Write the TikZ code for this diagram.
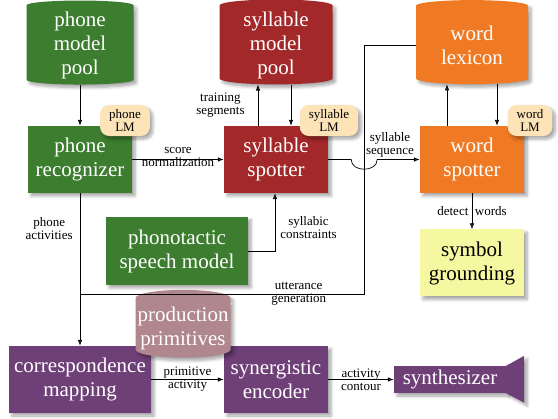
\documentclass[tikz,border=0pt]{standalone}
\usepackage{fontspec}
\setmainfont{Liberation Serif}
\usetikzlibrary{shapes,arrows.meta,positioning,calc,shadows.blur}
\definecolor{leafgreen}{HTML}{3C7D2F}
\definecolor{brickred}{HTML}{A3282A}
\definecolor{tangerine}{HTML}{F07A24}
\definecolor{plum}{HTML}{6F3F78}
\definecolor{mauve}{HTML}{B0868F}
\definecolor{lmtan}{HTML}{FCE3B8}
\definecolor{paleyellow}{HTML}{F6F7A1}
\newcommand{\bigtxt}{\fontsize{21}{24}\selectfont}
\newcommand{\lbltxt}{\fontsize{13}{13}\selectfont}

\begin{document}
\begin{tikzpicture}[x=1pt, y=-1pt,
  shdw/.style={blur shadow={shadow blur steps=6, shadow xshift=3pt, shadow yshift=-3pt, shadow blur radius=3pt, shadow opacity=35}},
  proc/.style={rectangle, fill=#1, text=white, minimum width=104pt, minimum height=67pt, align=center, font=\bigtxt, shdw},
  pool/.style={cylinder, shape border rotate=90, aspect=0.18, fill=#1, text=white, minimum height=84pt, align=center, font=\bigtxt, inner sep=0pt, shdw},
  lm/.style={rectangle, rounded corners=9pt, fill=lmtan, inner xsep=9pt, inner ysep=4.5pt, align=center, font=\lbltxt, shdw},
  lbl/.style={font=\lbltxt, align=center, inner sep=1pt},
  arr/.style={-{Latex[length=6pt, width=4.5pt]}, line width=0.7pt}
]
  \useasboundingbox (0,0) rectangle (558,419);
  % model pools
  \node[pool=leafgreen, minimum width=107pt] (phonepool) at (80,45)  {phone\\model\\pool};
  \node[pool=brickred, minimum width=113pt]  (sylpool)   at (276,45) {syllable\\model\\pool};
  \node[pool=tangerine, minimum width=112pt] (lexicon)   at (472,45) {word\\lexicon};
  % recognizer and spotters
  \node[proc=leafgreen] (phonerec) at (80,159.5)  {phone\\recognizer};
  \node[proc=brickred]  (sylspot)  at (276,159.5) {syllable\\spotter};
  \node[proc=tangerine] (wordspot) at (472,159.5) {word\\spotter};
  \node[lm] (phonelm) at (125,120.5) {phone\\LM};
  \node[lm] (syllm)   at (329,120.5) {syllable\\LM};
  \node[lm] (wordlm)  at (530,120.5) {word\\LM};
  \node[proc=paleyellow, text=black] (grounding) at (472,263) {symbol\\grounding};
  \node[proc=leafgreen, minimum width=142pt, minimum height=68pt] (phonotactic) at (177,251) {phonotactic\\speech model};
  % production side
  \node[proc=plum, minimum width=142pt] (corresp) at (80,379.5)  {correspondence\\mapping};
  \node[proc=plum]                      (synenc)  at (276,379.5) {synergistic\\encoder};
  \node[pool=mauve, minimum width=95pt, minimum height=60pt] (prodprim) at (183,328) {production\\primitives};
  \node[proc=plum, minimum width=112pt, minimum height=27pt, inner ysep=0pt] (synth) at (450,379.5) {synthesizer};
  \fill[plum, shdw] (synth.north east) -- ++(18,-10) -- ++(0,47) -- (synth.south east) -- cycle;

  % connectors
  \draw[arr] (phonepool.south) -- (phonerec.north);
  \draw[arr] ([xshift=-18pt]sylspot.north) -- node[lbl, left=12pt] {training\\segments} ([xshift=-18pt]sylspot.north |- sylpool.south);
  \draw[arr] ([xshift=15pt]sylpool.south) -- ([xshift=15pt]sylpool.south |- sylspot.north);
  \draw[arr] ([xshift=-25pt]wordspot.north) -- ([xshift=-25pt]wordspot.north |- lexicon.south);
  \draw[arr] ([xshift=25pt]lexicon.south) -- ([xshift=25pt]lexicon.south |- wordspot.north);
  \draw[arr] (phonerec.east) -- node[lbl, yshift=2pt] {score\\normalization} (sylspot.west);
  \coordinate (jumpa) at ([xshift=23pt]sylspot.east);
  \coordinate (jumpb) at ([xshift=49pt]sylspot.east);
  \draw[arr] (sylspot.east) -- (jumpa) .. controls ([yshift=-13pt]jumpa) and ([yshift=-13pt]jumpb) .. (jumpb)
    -- node[lbl, pos=0.3, above=1pt] {syllable\\sequence} (wordspot.west);
  \coordinate (uttturn) at (364,294);
  \draw (lexicon.west) -| (uttturn) -- node[lbl, pos=0.23] {utterance\\generation} (uttturn -| corresp.north);
  \draw[arr] (phonerec.south) -- node[lbl, pos=0.23, left=6pt] {phone\\activities} (corresp.north);
  \draw[arr] (phonotactic.east) -| node[lbl, pos=0.7, right=4pt] {syllabic\\constraints} ([xshift=-1pt]sylspot.south);
  \draw[arr] (wordspot.south) -- node[lbl] {detect\enspace words} (grounding.north);
  \draw[arr] (corresp.east) -- node[lbl] {primitive\\activity} (synenc.west);
  \draw[arr] (synenc.east) -- node[lbl] {activity\\contour} (synth.west);
\end{tikzpicture}
\end{document}
